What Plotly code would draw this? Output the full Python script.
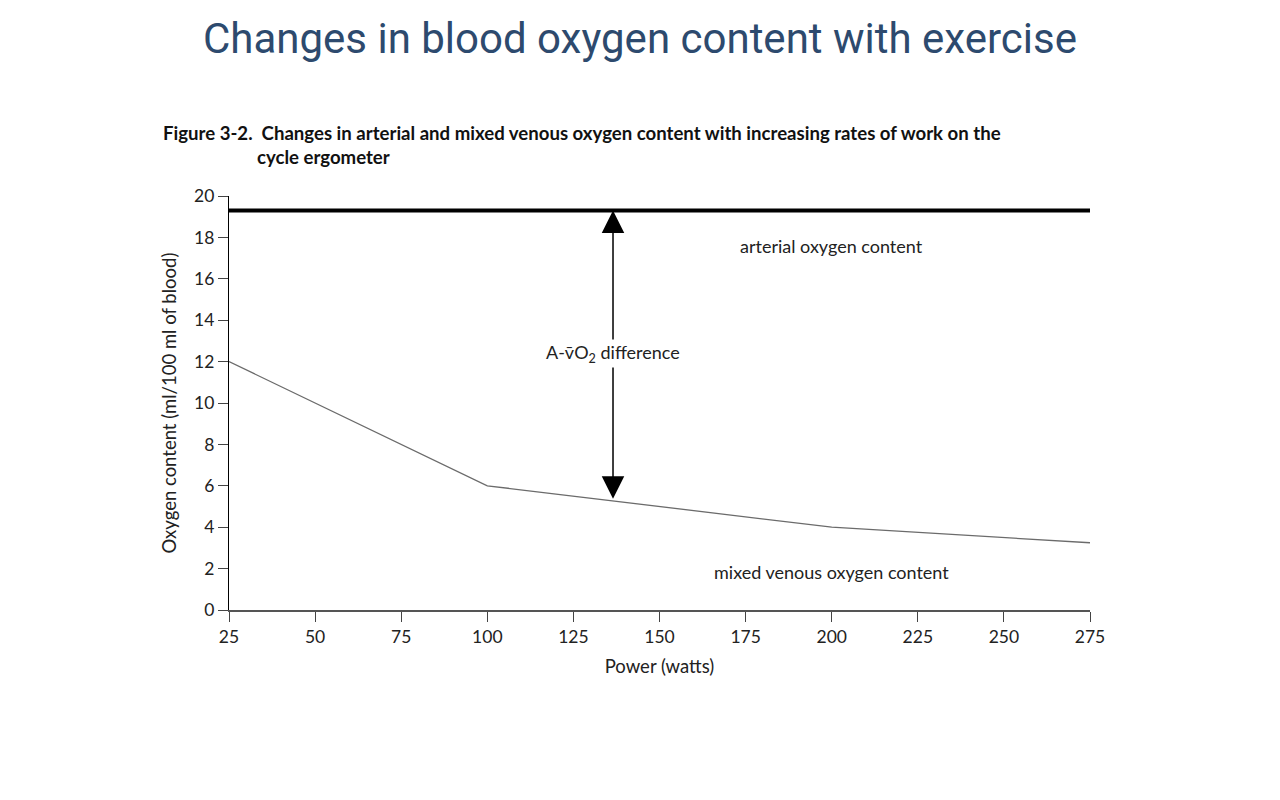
import plotly.graph_objects as go

power = [25, 100, 200, 275]
venous = [12, 6, 4, 3.25]
arterial_x = [25, 275]
arterial = [19.3, 19.3]
x_ticks = [25, 50, 75, 100, 125, 150, 175, 200, 225, 250, 275]
y_ticks = [0, 2, 4, 6, 8, 10, 12, 14, 16, 18, 20]
arrow_x = 136.5
arrow_top = 19.3
arrow_bottom = 5.3

FONT = "Lato"

fig = go.Figure()
fig.add_trace(go.Scatter(x=arterial_x, y=arterial, mode="lines",
                         line=dict(color="black", width=4), showlegend=False, hoverinfo="skip"))
fig.add_trace(go.Scatter(x=power, y=venous, mode="lines",
                         line=dict(color="#6b6b6b", width=1.3), showlegend=False))

fig.add_annotation(x=arrow_x, y=arrow_top, ax=arrow_x, ay=arrow_bottom,
                   xref="x", yref="y", axref="x", ayref="y", text="",
                   showarrow=True, arrowhead=2, startarrowhead=2, arrowside="end+start",
                   arrowwidth=1.5, arrowsize=3, startarrowsize=3, arrowcolor="black",
                   standoff=0, startstandoff=0)
fig.add_annotation(x=arrow_x, y=12.4, xref="x", yref="y",
                   text="A-v\u0304O<sub>2</sub> difference", showarrow=False,
                   bgcolor="white", font=dict(family=FONT, size=18, color="#222"))
fig.add_annotation(x=200, y=17.6, xref="x", yref="y", text="arterial oxygen content",
                   showarrow=False, font=dict(family=FONT, size=18, color="#222"))
fig.add_annotation(x=200, y=1.85, xref="x", yref="y", text="mixed venous oxygen content",
                   showarrow=False, font=dict(family=FONT, size=18, color="#222"))

fig.add_annotation(x=161, y=800 - 133, xref="paper", yref="paper", xanchor="left", yanchor="middle",
                   text="<b>Figure 3-2.  Changes in arterial and mixed venous oxygen content with increasing rates of work on the</b>",
                   showarrow=False, font=dict(family=FONT, size=18.6, color="#111"))
fig.add_annotation(x=255, y=800 - 157, xref="paper", yref="paper", xanchor="left", yanchor="middle",
                   text="<b>cycle ergometer</b>",
                   showarrow=False, font=dict(family=FONT, size=18.6, color="#111"))

# convert paper annotations from pixel to paper coordinates
L, R, T, B = 229, 190, 196, 190
pw, ph = 1280 - L - R, 800 - T - B
for a in fig.layout.annotations:
    if a.xref == "paper":
        a.x = (a.x - L) / pw
        a.y = (a.y - B) / ph

fig.update_layout(
    width=1280, height=800,
    margin=dict(l=L, r=R, t=T, b=B),
    plot_bgcolor="white", paper_bgcolor="white",
    title=dict(text="Changes in blood oxygen content with exercise", x=0.5, xanchor="center",
               y=1 - 38 / 800, yanchor="middle",
               font=dict(family="Roboto", size=42, color="#2d4a6e")),
    xaxis=dict(range=[25, 275], tickvals=x_ticks, ticks="outside", ticklen=10, tickcolor="#444",
               showline=True, linecolor="#555", linewidth=2, showgrid=False, zeroline=False,
               tickfont=dict(family=FONT, size=17.5, color="#222"),
               title=dict(text="Power (watts)", font=dict(family=FONT, size=18.5, color="#222"), standoff=14)),
    yaxis=dict(range=[0, 20], tickvals=y_ticks, ticks="outside", ticklen=10, tickcolor="#444",
               showline=True, linecolor="black", linewidth=1.3, showgrid=False, zeroline=False,
               tickfont=dict(family=FONT, size=17.5, color="#222"),
               title=dict(text="Oxygen content (ml/100 ml of blood)",
                          font=dict(family=FONT, size=18.5, color="#222"), standoff=12)),
)

fig.write_html("out.html")
